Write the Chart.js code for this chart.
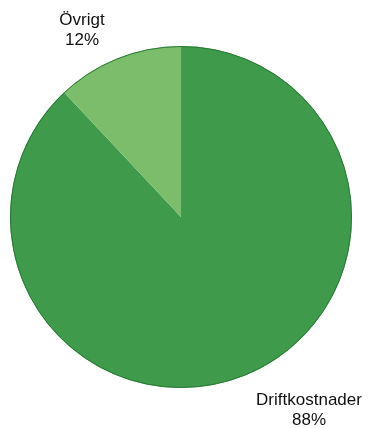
<!DOCTYPE html>
<html lang="sv">
<head>
    <meta charset="UTF-8">
    <title>Driftkostnader</title>
    <script src="https://cdn.jsdelivr.net/npm/chart.js"></script>
    <style>
        html, body { margin: 0; padding: 0; background: #ffffff; }
        #wrap { width: 368px; height: 428px; }
    </style>
</head>
<body>
    <div id="wrap"><canvas id="myChart" width="368" height="428"></canvas></div>
    <script>
        // data
        const labels = ['Driftkostnader', 'Övrigt'];
        const values = [88, 12];
        const colors = ['#3f9a4c', '#7cbd6b'];
        // label positions (text only)
        const labelPos = [[309, 400], [82, 20]];

        const labelPlugin = {
            id: 'sliceLabels',
            afterDatasetsDraw(chart) {
                const ctx = chart.ctx;
                const arc = chart.getDatasetMeta(0).data[0];
                // thin dark outline around the pie
                ctx.save();
                ctx.beginPath();
                ctx.arc(arc.x, arc.y, arc.outerRadius - 0.5, 0, Math.PI * 2);
                ctx.strokeStyle = '#2b7a37';
                ctx.lineWidth = 1;
                ctx.stroke();

                ctx.fillStyle = '#111111';
                ctx.font = '17px "Liberation Sans", Arial, sans-serif';
                ctx.textAlign = 'center';
                ctx.textBaseline = 'middle';
                labels.forEach((l, i) => {
                    const [x, y] = labelPos[i];
                    ctx.fillText(l, x, y);
                    ctx.fillText(values[i] + '%', x, y + 20);
                });
                ctx.restore();
            }
        };

        new Chart(document.getElementById('myChart'), {
            type: 'pie',
            data: {
                labels: labels,
                datasets: [{
                    data: values,
                    backgroundColor: colors,
                    borderWidth: 0
                }]
            },
            options: {
                responsive: false,
                animation: false,
                layout: { padding: { left: 10, right: 16, top: 46, bottom: 40 } },
                plugins: {
                    legend: { display: false },
                    tooltip: { enabled: false }
                }
            },
            plugins: [labelPlugin]
        });
    </script>
</body>
</html>
